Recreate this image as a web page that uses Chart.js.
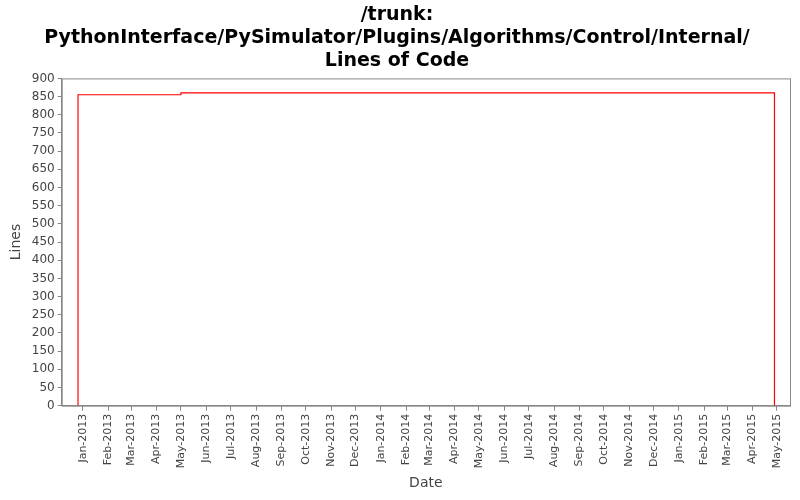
<!DOCTYPE html>
<html><head><meta charset="utf-8">
<script src="https://cdn.jsdelivr.net/npm/chart.js@4"></script>
<style>body{margin:0;background:#fff}</style>
</head><body><canvas id="c" width="800" height="500"></canvas>
<script>
const dates = ["2012-12-26","2012-12-26","2013-05-01","2013-05-01","2015-04-28","2015-04-28"];
const lines = [0,855,855,860,860,0];
const monthLabels = ["Jan","Feb","Mar","Apr","May","Jun","Jul","Aug","Sep","Oct","Nov","Dec"];
const ts = d => Date.UTC(+d.slice(0,4), +d.slice(5,7)-1, +d.slice(8,10));
const pts = dates.map((d,i)=>({x:ts(d), y:lines[i]}));
const monthTicks = [];
for (let k=0; k<=28; k++) monthTicks.push(Date.UTC(2013, k, 1));
new Chart(document.getElementById('c'), {
  type:'line',
  data:{datasets:[{data:pts,borderColor:'#ff0000',borderWidth:1.2,pointRadius:0,tension:0,fill:false}]},
  options:{responsive:false,animation:false,devicePixelRatio:1,
    layout:{padding:{right:10,left:4,bottom:4}},
    plugins:{legend:{display:false},tooltip:{enabled:false},
      title:{display:true,text:['/trunk:','PythonInterface/PySimulator/Plugins/Algorithms/Control/Internal/','Lines of Code'],
        font:{family:'DejaVu Sans',size:19,weight:'bold'},color:'#000',padding:{top:4,bottom:6},lineHeight:1.15}},
    scales:{
      x:{type:'linear',min:ts("2012-12-06"),max:ts("2015-05-17"),
        afterBuildTicks:a=>{a.ticks=monthTicks.map(v=>({value:v}));},
        ticks:{autoSkip:false,minRotation:90,maxRotation:90,color:'#444',font:{family:'DejaVu Sans',size:11},
          callback:v=>{const d=new Date(v);return monthLabels[d.getUTCMonth()]+'-'+d.getUTCFullYear();}},
        grid:{drawOnChartArea:false,tickLength:5,color:'#888'},border:{color:'#888'},
        title:{display:true,text:'Date',font:{family:'DejaVu Sans',size:14},color:'#444'}},
      y:{min:0,max:900,ticks:{stepSize:50,color:'#444',font:{family:'DejaVu Sans',size:12}},
        grid:{drawOnChartArea:false,tickLength:4,color:'#888'},border:{color:'#888'},
        title:{display:true,text:'Lines',font:{family:'DejaVu Sans',size:14},color:'#444'}}
    }},
  plugins:[{id:'box',afterDraw(c){const a=c.chartArea,x=c.ctx;x.save();x.strokeStyle='#888';x.lineWidth=1;x.strokeRect(a.left+0.5,a.top+0.5,a.right-a.left,a.bottom-a.top);x.restore();}}]
});
</script></body></html>
